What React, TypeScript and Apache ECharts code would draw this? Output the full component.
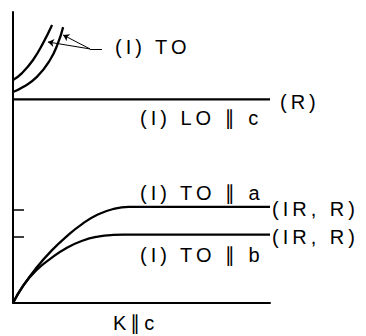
import React, { useEffect, useRef } from "react";
import * as echarts from "echarts";

// Dispersion curves (arbitrary units, x: K ∥ c from 0..10, y: frequency 0..10)
const toUpper: [number, number][] = [
  [0, 7.66], [0.35, 7.9], [0.78, 8.35], [1.17, 8.93], [1.52, 9.55],
];
const toLower: [number, number][] = [
  [0, 7.25], [0.39, 7.42], [0.93, 7.77], [1.44, 8.35], [1.75, 8.93], [1.95, 9.48],
];
const loC: [number, number][] = [[0, 7.0], [10, 7.0]];
const toA: [number, number][] = [
  [0, 0], [0.4, 0.6], [0.9, 1.2], [1.5, 1.8], [2.1, 2.3], [2.7, 2.72],
  [3.3, 3.04], [3.9, 3.23], [4.5, 3.3], [10, 3.3],
];
const toB: [number, number][] = [
  [0, 0], [0.4, 0.6], [0.9, 1.12], [1.5, 1.55], [2.1, 1.9], [2.7, 2.14],
  [3.3, 2.28], [3.9, 2.34], [4.3, 2.35], [10, 2.35],
];
const yTicks = [3.2, 2.27];

const labels = [
  { text: "(I) TO", x: 115, y: 47 },
  { text: "(R)", x: 280, y: 102 },
  { text: "(I) LO ∥ c", x: 140, y: 118 },
  { text: "(I) TO ∥ a", x: 140, y: 193 },
  { text: "(IR, R)", x: 272, y: 209 },
  { text: "(IR, R)", x: 272, y: 237 },
  { text: "(I) TO ∥ b", x: 140, y: 255 },
  { text: "K∥c", x: 113, y: 323 },
];

const FONT = "'Liberation Sans', 'DejaVu Sans', sans-serif";

export default function App() {
  const ref = useRef<HTMLDivElement>(null);
  useEffect(() => {
    document.body.style.margin = "0";
    const chart = echarts.init(ref.current!, undefined, { renderer: "svg" });
    const lineSeries = (name: string, data: [number, number][], extra: any = {}) => ({
      name,
      type: "line",
      data,
      smooth: 0.5,
      symbol: "none",
      lineStyle: { color: "#000", width: 2.3 },
      ...extra,
    });
    chart.setOption({
      animation: false,
      backgroundColor: "#fff",
      grid: { left: 13, top: 12, right: 96, bottom: 33 },
      xAxis: {
        type: "value",
        min: 0,
        max: 10,
        axisLine: { show: true, lineStyle: { color: "#000", width: 2 } },
        axisTick: { show: false },
        axisLabel: { show: false },
        splitLine: { show: false },
      },
      yAxis: {
        type: "value",
        min: 0,
        max: 10,
        axisLine: { show: true, lineStyle: { color: "#000", width: 2 } },
        axisTick: {
          show: true,
          inside: true,
          length: 11,
          customValues: yTicks,
          lineStyle: { color: "#000", width: 1.5 },
        },
        axisLabel: { show: false },
        splitLine: { show: false },
      },
      series: [
        lineSeries("TO1", toUpper, {
          markLine: {
            silent: true,
            symbolSize: 6,
            label: { show: false },
            lineStyle: { color: "#000", width: 1, type: "solid" },
            data: [
              [{ coord: [3.0, 8.73], symbol: "none" }, { coord: [1.36, 8.97], symbol: "arrow" }],
              [{ coord: [3.0, 8.73], symbol: "none" }, { coord: [1.95, 9.21], symbol: "arrow" }],
              [{ coord: [3.0, 8.73], symbol: "none" }, { coord: [3.46, 8.73], symbol: "none" }],
            ],
          },
        }),
        lineSeries("TO2", toLower),
        lineSeries("LO", loC, { smooth: false }),
        lineSeries("TOa", toA),
        lineSeries("TOb", toB),
      ],
      graphic: labels.map((l) => ({
        type: "text",
        x: l.x,
        y: l.y,
        style: {
          text: l.text,
          fill: "#000",
          font: `20px ${FONT}`,
          verticalAlign: "middle",
          align: "left",
        },
      })),
    });
    return () => chart.dispose();
  }, []);
  return <div ref={ref} style={{ width: 366, height: 336, letterSpacing: "4px" }} />;
}
